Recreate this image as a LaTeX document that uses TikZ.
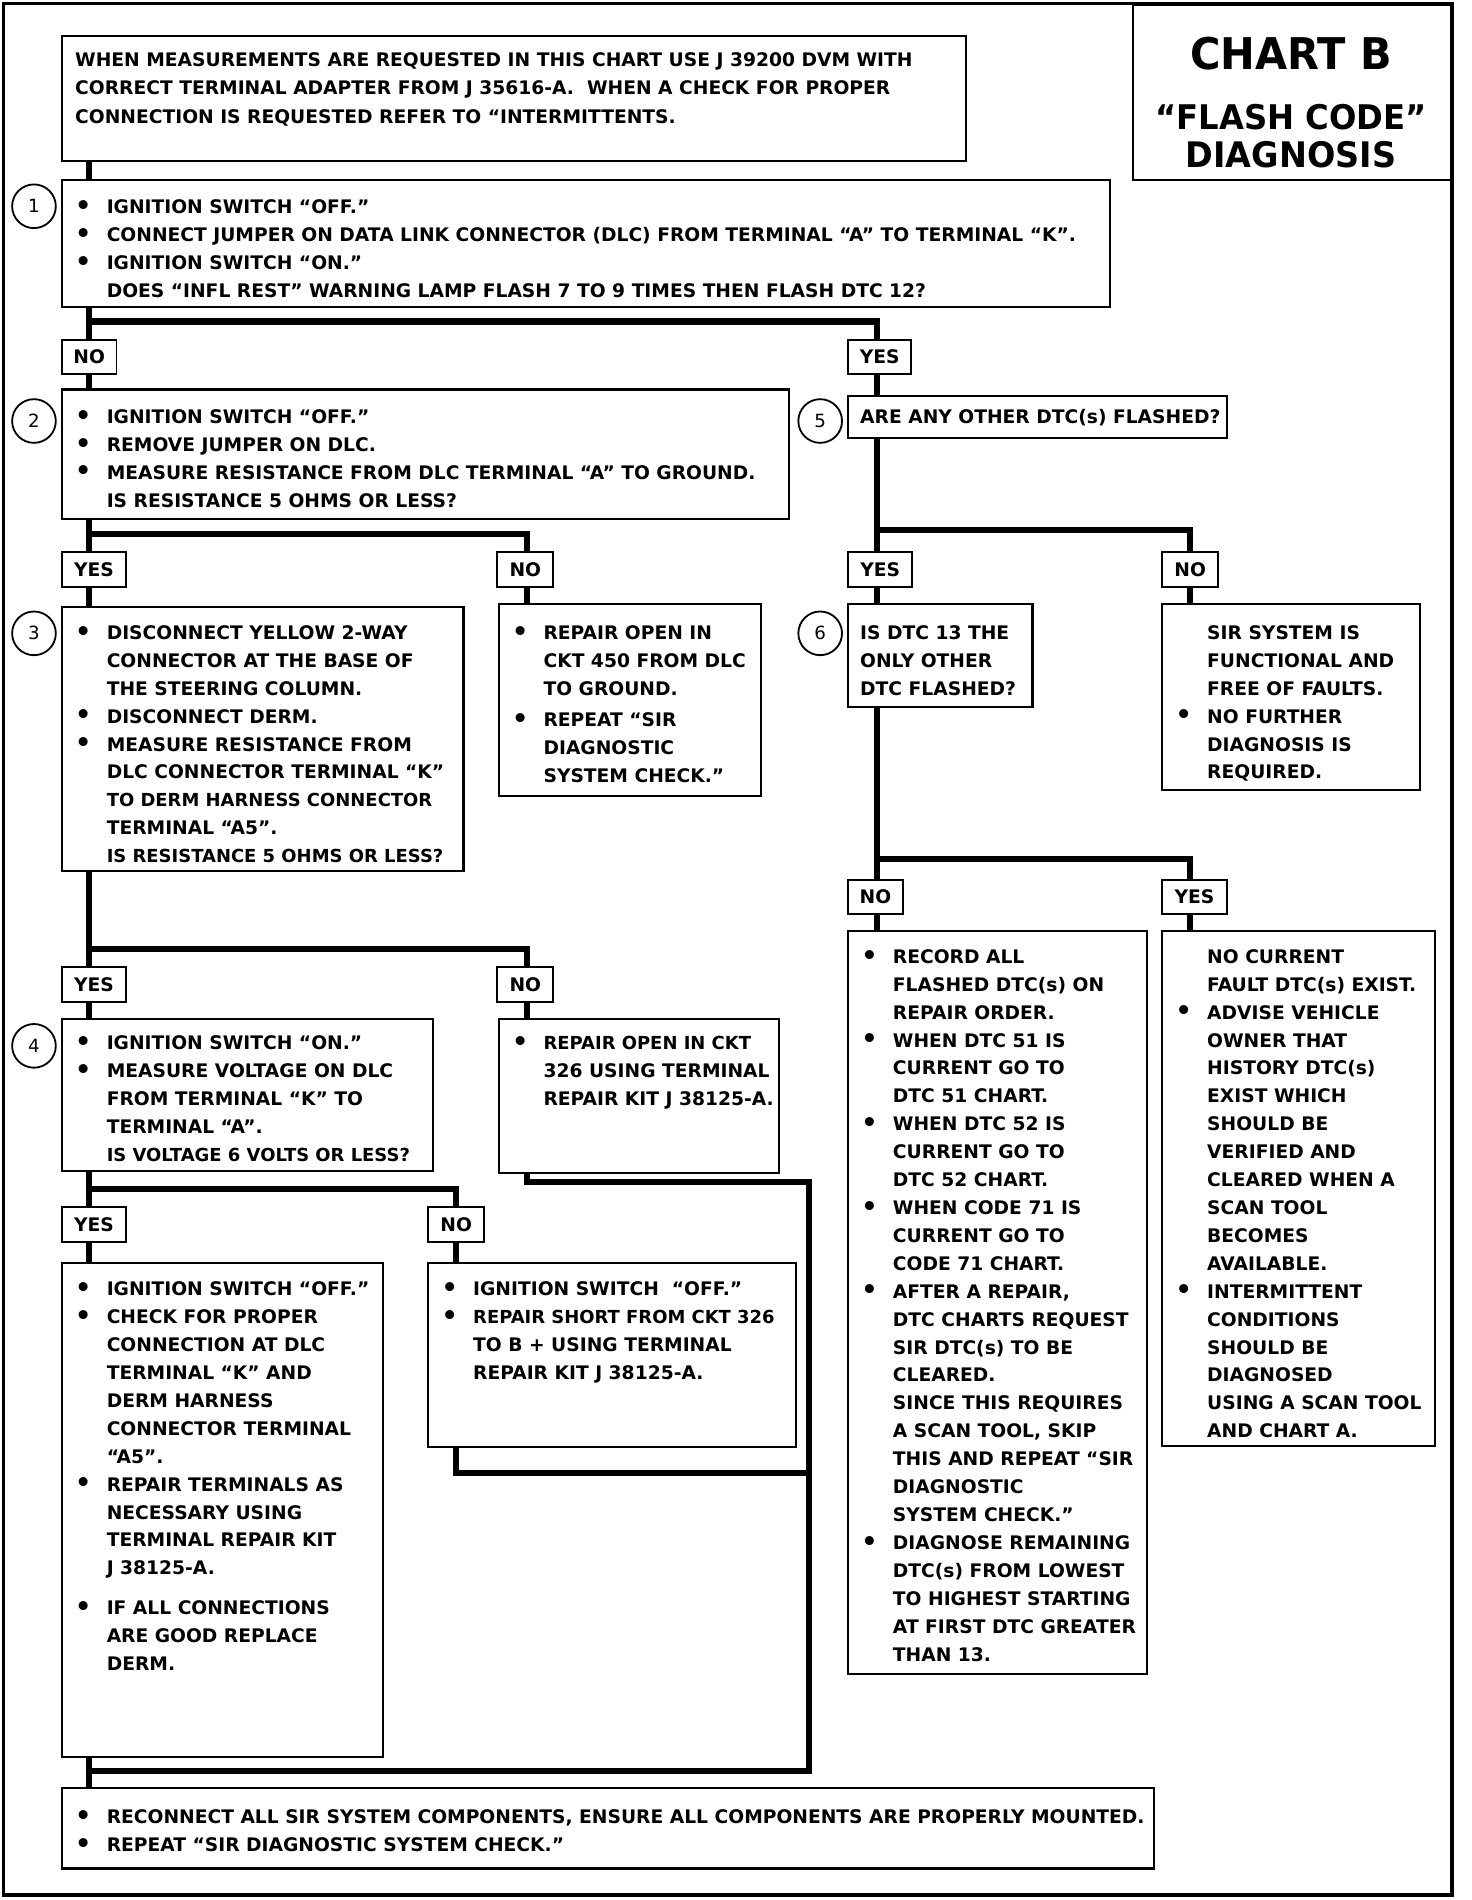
\documentclass[tikz,border=0pt]{standalone}
\usepackage{fontspec}
\setmainfont{DejaVu Sans}
\newfontfamily\titlefont{DejaVu Sans}[FakeStretch=0.95]
\usetikzlibrary{calc}

\newcommand\bodyfont{\fontsize{15.4}{23}\selectfont\bfseries}
\newcommand\narrow{\fontsize{14.8}{23}\selectfont}
\newcommand\bu{\makebox[26pt][l]{\fontsize{21}{21}\selectfont\raisebox{-0.6pt}{•}}}
\newcommand\nb{\hspace*{26pt}}
\newcommand\bx[5]{\node[box, minimum width={(#4-#2)*1pt}, minimum height={(#5-#3)*1pt}] (#1) at (#2,#3) {};}
\newcommand\tx[4]{\node[txt] (#1) at (#2,#3-15) {\rule{0pt}{15pt}#4};}
\newcommand\lb[6]{\node[lab, minimum width={(#4-#2)*1pt}, minimum height={(#5-#3)*1pt}] (#1) at (#2,#3) {#6};}

\tikzset{
  box/.style={draw, line width=1.7pt, inner sep=0pt, outer sep=0pt, anchor=north west},
  lab/.style={draw, line width=1.6pt, inner sep=0pt, outer sep=0pt, anchor=north west, font=\bodyfont},
  conn/.style={line width=5pt},
  num/.style={draw, circle, line width=1.5pt, minimum size=36pt, inner sep=0pt, font=\fontsize{15}{15}\selectfont},
  txt/.style={anchor=north west, inner sep=0pt, outer sep=0pt, align=left, font=\bodyfont},
  ttl/.style={inner sep=0pt, anchor=base, font=\titlefont\bfseries}
}

\begin{document}
\begin{tikzpicture}[x=1pt,y=-1pt]
\useasboundingbox (0,0) rectangle (1213,1566);
\draw[line width=3pt] (3,3) rectangle (1197,1562);

% title
\bx{title}{934}{4}{1197}{148}
\node[ttl, font=\titlefont\bfseries\fontsize{36}{36}\selectfont] (t1) at (1064,57) {CHART B};
\node[ttl, font=\titlefont\bfseries\fontsize{28}{28}\selectfont] (t2) at (1064,107) {“FLASH CODE”};
\node[ttl, font=\titlefont\bfseries\fontsize{29}{29}\selectfont] (t3) at (1064,138) {DIAGNOSIS};

% guides
\coordinate (xL) at (73,0);
\coordinate (xM) at (434,0);
\coordinate (xR) at (723,0);
\coordinate (xRR) at (981,0);
\coordinate (xN) at (376,0);
\coordinate (xV) at (667,0);
\coordinate (j1) at (73,265);
\coordinate (j2) at (73,440);
\coordinate (j3) at (723,437);
\coordinate (j4) at (723,708);
\coordinate (j5) at (73,782);
\coordinate (j6) at (73,980);
\coordinate (j7) at (667,974);
\coordinate (j8) at (667,1214);
\coordinate (j9) at (73,1460);

% boxes
\bx{b0}{51}{30}{796}{133}
\tx{t0}{62}{55}{WHEN MEASUREMENTS ARE REQUESTED IN THIS CHART USE J 39200 DVM WITH\\
CORRECT TERMINAL ADAPTER FROM J 35616-A.\ \ WHEN A CHECK FOR PROPER\\[1pt]
CONNECTION IS REQUESTED REFER TO “INTERMITTENTS.}

\bx{b1}{51}{148}{915}{253}
\node[num] (n1) at (28,170) {1};
\tx{tb1}{62}{176}{\bu IGNITION SWITCH “OFF.”\\
\bu CONNECT JUMPER ON DATA LINK CONNECTOR (DLC) FROM TERMINAL “A” TO TERMINAL “K”.\\
\bu IGNITION SWITCH “ON.”\\
\nb DOES “INFL REST” WARNING LAMP FLASH 7 TO 9 TIMES THEN FLASH DTC 12?}

\lb{no1}{51}{280}{96}{308}{NO}
\lb{yes1}{699}{280}{751}{308}{YES}

\bx{b2}{51}{321}{650}{428}
\node[num] (n2) at (28,347) {2};
\tx{tb2}{62}{349}{\bu IGNITION SWITCH “OFF.”\\
\bu REMOVE JUMPER ON DLC.\\
\bu MEASURE RESISTANCE FROM DLC TERMINAL “A” TO GROUND.\\
\nb IS RESISTANCE 5 OHMS OR LESS?}

\bx{b5}{699}{326}{1011}{361}
\node[num] (n5) at (676,347) {5};
\tx{tb5}{709}{349}{ARE ANY OTHER DTC(s) FLASHED?}

\lb{yes2}{51}{455}{104}{484}{YES}
\lb{no2}{410}{455}{456}{484}{NO}
\lb{yes3}{699}{455}{752}{484}{YES}
\lb{no3}{958}{455}{1004}{484}{NO}

\bx{b3}{51}{500}{382}{718}
\node[num] (n3) at (28,522) {3};
\tx{tb3}{62}{527}{\bu DISCONNECT YELLOW 2-WAY\\
\nb CONNECTOR AT THE BASE OF\\
\nb THE STEERING COLUMN.\\
\bu DISCONNECT DERM.\\
\bu MEASURE RESISTANCE FROM\\
\nb DLC CONNECTOR TERMINAL “K”\\
\nb {\narrow TO DERM HARNESS CONNECTOR}\\
\nb TERMINAL “A5”.\\
\nb {\narrow IS RESISTANCE 5 OHMS OR LESS?}}

\bx{b450}{411}{498}{627}{656}
\tx{tb450}{422}{527}{\bu REPAIR OPEN IN\\
\nb CKT 450 FROM DLC\\
\nb TO GROUND.\\[3pt]
\bu REPEAT “SIR\\
\nb DIAGNOSTIC\\
\nb SYSTEM CHECK.”}

\bx{b6}{699}{498}{851}{583}
\node[num] (n6) at (676,522) {6};
\tx{tb6}{709}{527}{IS DTC 13 THE\\
ONLY OTHER\\
DTC FLASHED?}

\bx{bsir}{958}{498}{1170}{651}
\tx{tsir}{969}{527}{\nb SIR SYSTEM IS\\
\nb FUNCTIONAL AND\\
\nb FREE OF FAULTS.\\
\bu NO FURTHER\\
\nb DIAGNOSIS IS\\
\nb REQUIRED.}

\lb{no4}{699}{725}{744}{753}{NO}
\lb{yes4}{958}{725}{1011}{753}{YES}

\bx{brec}{699}{767}{945}{1380}
\tx{trec}{710}{794}{\bu RECORD ALL\\
\nb FLASHED DTC(s) ON\\
\nb REPAIR ORDER.\\
\bu WHEN DTC 51 IS\\
\nb CURRENT GO TO\\
\nb DTC 51 CHART.\\
\bu WHEN DTC 52 IS\\
\nb CURRENT GO TO\\
\nb DTC 52 CHART.\\
\bu WHEN CODE 71 IS\\
\nb CURRENT GO TO\\
\nb CODE 71 CHART.\\
\bu AFTER A REPAIR,\\
\nb DTC CHARTS REQUEST\\
\nb SIR DTC(s) TO BE\\
\nb CLEARED.\\
\nb SINCE THIS REQUIRES\\
\nb A SCAN TOOL, SKIP\\
\nb THIS AND REPEAT “SIR\\
\nb DIAGNOSTIC\\
\nb SYSTEM CHECK.”\\
\bu DIAGNOSE REMAINING\\
\nb DTC(s) FROM LOWEST\\
\nb TO HIGHEST STARTING\\
\nb AT FIRST DTC GREATER\\
\nb THAN 13.}

\bx{bnc}{958}{767}{1183}{1192}
\tx{tnc}{969}{794}{\nb NO CURRENT\\
\nb FAULT DTC(s) EXIST.\\
\bu ADVISE VEHICLE\\
\nb OWNER THAT\\
\nb HISTORY DTC(s)\\
\nb EXIST WHICH\\
\nb SHOULD BE\\
\nb VERIFIED AND\\
\nb CLEARED WHEN A\\
\nb SCAN TOOL\\
\nb BECOMES\\
\nb AVAILABLE.\\
\bu INTERMITTENT\\
\nb CONDITIONS\\
\nb SHOULD BE\\
\nb DIAGNOSED\\
\nb USING A SCAN TOOL\\
\nb AND CHART A.}

\lb{yes5}{51}{797}{104}{826}{YES}
\lb{no5}{410}{797}{456}{826}{NO}

\bx{b4}{51}{840}{357}{965}
\node[num] (n4) at (28,862) {4};
\tx{tb4}{62}{865}{\bu IGNITION SWITCH “ON.”\\
\bu MEASURE VOLTAGE ON DLC\\
\nb FROM TERMINAL “K” TO\\
\nb TERMINAL “A”.\\
\nb {\narrow IS VOLTAGE 6 VOLTS OR LESS?}}

\bx{b326}{411}{840}{642}{967}
\tx{tb326}{422}{865}{\narrow\bu REPAIR OPEN IN CKT\\
\nb 326 USING TERMINAL\\
\nb REPAIR KIT J 38125-A.}

\lb{yes6}{51}{995}{104}{1024}{YES}
\lb{no6}{353}{995}{399}{1024}{NO}

\bx{b7}{51}{1041}{316}{1448}
\tx{tb7}{62}{1068}{\bu IGNITION SWITCH “OFF.”\\
\bu CHECK FOR PROPER\\
\nb CONNECTION AT DLC\\
\nb TERMINAL “K” AND\\
\nb DERM HARNESS\\
\nb CONNECTOR TERMINAL\\
\nb “A5”.\\
\bu REPAIR TERMINALS AS\\
\nb NECESSARY USING\\
\nb TERMINAL REPAIR KIT\\
\nb J 38125-A.\\[10pt]
\bu IF ALL CONNECTIONS\\
\nb ARE GOOD REPLACE\\
\nb DERM.}

\bx{b8}{353}{1041}{656}{1193}
\tx{tb8}{364}{1068}{\bu IGNITION SWITCH\ \ “OFF.”\\
\bu {\narrow REPAIR SHORT FROM CKT 326}\\
\nb TO B + USING TERMINAL\\
\nb REPAIR KIT J 38125-A.}

\bx{bfin}{51}{1474}{951}{1540}
\tx{tfin}{62}{1503}{\bu RECONNECT ALL SIR SYSTEM COMPONENTS, ENSURE ALL COMPONENTS ARE PROPERLY MOUNTED.\\
\bu REPEAT “SIR DIAGNOSTIC SYSTEM CHECK.”}

% connectors
\draw[conn] (b0.south -| xL) -- (b1.north -| xL);
\draw[conn] (b1.south -| xL) -- (no1.north -| xL);
\draw[conn] (j1) -| (yes1.north -| xR);
\draw[conn] (no1.south -| xL) -- (b2.north -| xL);
\draw[conn] (yes1.south -| xR) -- (b5.north -| xR);
\draw[conn] (b2.south -| xL) -- (yes2.north -| xL);
\draw[conn] (j2) -| (no2.north -| xM);
\draw[conn] (yes2.south -| xL) -- (b3.north -| xL);
\draw[conn] (no2.south -| xM) -- (b450.north -| xM);
\draw[conn] (b5.south -| xR) -- (yes3.north -| xR);
\draw[conn] (j3) -| (no3.north -| xRR);
\draw[conn] (yes3.south -| xR) -- (b6.north -| xR);
\draw[conn] (no3.south -| xRR) -- (bsir.north -| xRR);
\draw[conn] (b6.south -| xR) -- (no4.north -| xR);
\draw[conn] (j4) -| (yes4.north -| xRR);
\draw[conn] (no4.south -| xR) -- (brec.north -| xR);
\draw[conn] (yes4.south -| xRR) -- (bnc.north -| xRR);
\draw[conn] (b3.south -| xL) -- (yes5.north -| xL);
\draw[conn] (j5) -| (no5.north -| xM);
\draw[conn] (yes5.south -| xL) -- (b4.north -| xL);
\draw[conn] (no5.south -| xM) -- (b326.north -| xM);
\draw[conn] (b4.south -| xL) -- (yes6.north -| xL);
\draw[conn] (j6) -| (no6.north -| xN);
\draw[conn] (yes6.south -| xL) -- (b7.north -| xL);
\draw[conn] (no6.south -| xN) -- (b8.north -| xN);
\draw[conn] (b326.south -| xM) |- (j7) |- (j9);
\draw[conn] (b8.south -| xN) |- (j8);
\draw[conn] (b7.south -| xL) -- (bfin.north -| xL);
\end{tikzpicture}
\end{document}
